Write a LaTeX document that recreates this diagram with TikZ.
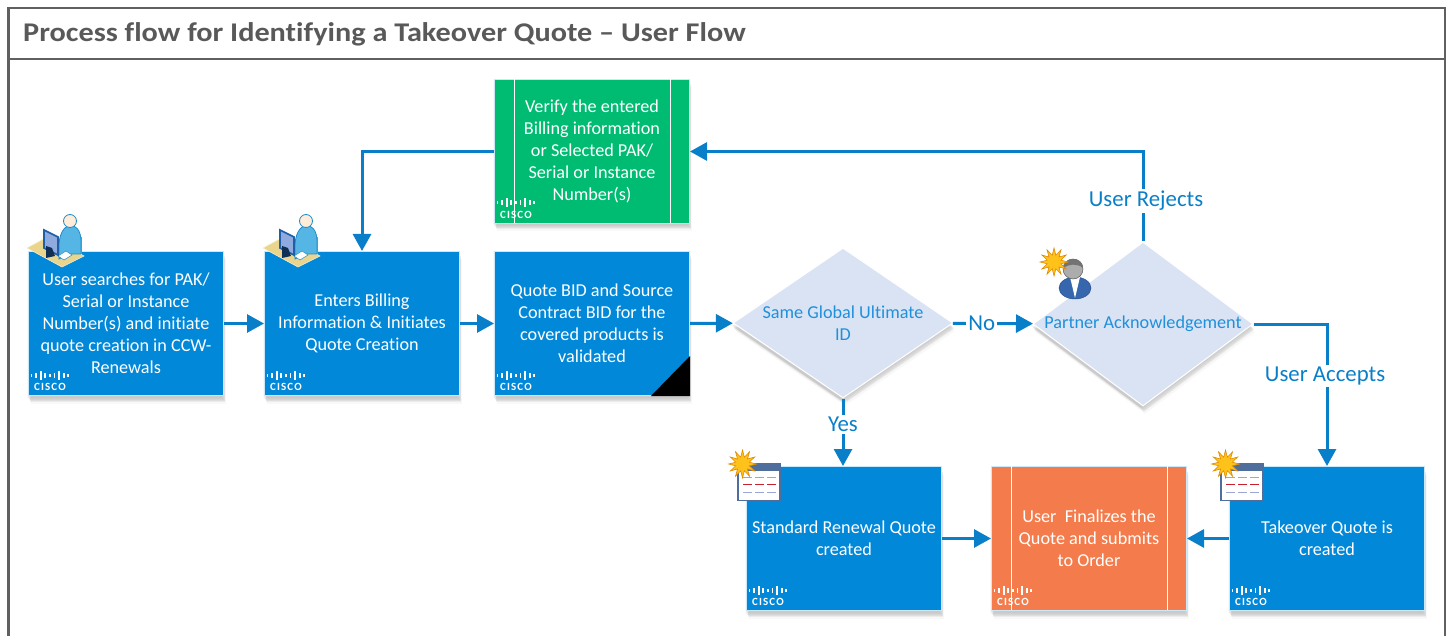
\documentclass[tikz,border=0pt]{standalone}
\usepackage{fontspec}
\setmainfont{Carlito}[Ligatures=CommonOff]
\usetikzlibrary{shapes.geometric,shadows,arrows.meta}

\definecolor{boxblue}{HTML}{0288D9}
\definecolor{boxgreen}{HTML}{00BC72}
\definecolor{boxorange}{HTML}{F47B4B}
\definecolor{decisionfill}{HTML}{DAE3F3}
\definecolor{decisiontext}{HTML}{1E90DC}
\definecolor{flowblue}{HTML}{0A7FC9}
\definecolor{framegrey}{HTML}{606060}
\definecolor{titlegrey}{HTML}{595959}
\definecolor{burstfill}{HTML}{FFC21A}
\definecolor{burstline}{HTML}{E08A00}
\definecolor{deskfill}{HTML}{E9D58C}
\definecolor{userblue}{HTML}{55B6E6}
\definecolor{userline}{HTML}{1E8CC8}
\definecolor{monitorline}{HTML}{1F5FA8}
\definecolor{sheetline}{HTML}{4F6E9C}
\definecolor{sheetdash}{HTML}{9CA6D6}
\definecolor{sheetred}{HTML}{C8202A}
\definecolor{partnerblue}{HTML}{3566AE}

\tikzset{
softshadow/.style={
  drop shadow={shadow xshift=-2pt, shadow yshift=-2pt, opacity=.05},
  drop shadow={shadow xshift=-1pt, shadow yshift=-3pt, opacity=.08},
  drop shadow={shadow xshift=0pt, shadow yshift=-4pt, opacity=.10},
  drop shadow={shadow xshift=1pt, shadow yshift=-5pt, opacity=.12},
  drop shadow={shadow xshift=1pt, shadow yshift=-6pt, opacity=.10},
  drop shadow={shadow xshift=2pt, shadow yshift=-8pt, opacity=.06}},
stepbox/.style={rectangle, draw=white!80!boxblue, line width=1pt, softshadow,
  minimum width=195pt, minimum height=144pt, inner sep=0pt, align=center,
  text=white, font=\fontsize{18.2}{22}\selectfont},
bluebox/.style={stepbox, fill=boxblue},
greenbox/.style={stepbox, fill=boxgreen},
orangebox/.style={stepbox, fill=boxorange},
decision/.style={diamond, aspect=1.47, fill=decisionfill, draw=white, line width=1pt,
  softshadow, minimum width=220pt, minimum height=150pt, inner sep=0pt, align=center,
  text=decisiontext, font=\fontsize{18.2}{22}\selectfont},
flow/.style={draw=flowblue, line width=3pt, -{Triangle[length=17pt, width=18pt]}},
flowlabel/.style={fill=white, inner sep=2pt, text=flowblue, font=\fontsize{22.8}{24}\selectfont},
ciscologo/.pic={
  \foreach \i/\h in {0/3,1/5,2/9,3/5,4/3,5/5,6/9,7/5,8/3}
    \fill[white] (3.5+\i*4.6-.9, -21-\h/2) rectangle (3.5+\i*4.6+.9, -21+\h/2);
  \node[text=white, inner sep=0pt, font=\fontsize{11}{11}\bfseries\addfontfeatures{LetterSpace=10}]
    (-word) at (22, -9) {CISCO};
},
burst/.pic={
  \draw[fill=burstfill, draw=burstline, line width=.6pt] (0:14)
    \foreach \a in {0,30,...,330} {-- (\a+15:7) -- (\a+30:14)} -- cycle;
},
deskuser/.pic={
  \fill[orange!75!brown] (50,-14) rectangle (54,5);
  \draw[fill=deskfill, draw=white!60!deskfill, line width=.6pt]
    (-1,-3) -- (21,-15) -- (56,5) -- (34,16) -- cycle;
  \draw[fill=userblue, draw=userline, line width=.8pt]
    (31,-2) .. controls (30,-32) and (53,-32) .. (53,-10) -- (53,3) -- (40,3) -- (31,8) -- cycle;
  \draw[fill=white!85!orange, draw=userline, line width=.8pt] (42,-30) circle (6.5);
  \draw[fill=white, draw=userline, line width=.5pt] (30,5) -- (38,0) -- (44,4) -- (36,9) -- cycle;
  \draw[fill=cyan!45!blue!45!white, draw=monitorline, line width=1.6pt] (16,-21) -- (30,-14) -- (30,4) -- (16,-3) -- cycle;
  \fill[monitorline!50!black] (18,-5) -- (24,-3) -- (27,5) -- (18,7) -- cycle;
},
quotesheet/.pic={
  \draw[fill=white, draw=sheetline, line width=1.2pt] (-8,-2.5) rectangle (34,34.5);
  \fill[sheetline] (-8,-2.5) rectangle (34,4.5);
  \foreach \r/\c in {11.5/sheetdash, 18.5/sheetred, 26.5/sheetdash}
    \foreach \x in {-3,9,21}
      \draw[\c, line width=1.3pt] (\x, \r) -- (\x+9, \r);
  \pic at (-3.5,-2) {burst};
},
partnerman/.pic={
  \draw[fill=partnerblue, draw=partnerblue!80!black, line width=.5pt] (0,0) ellipse (16 and 11);
  \fill[white] (-5,-11) -- (5,-11) -- (0,10) -- cycle;
  \draw[fill=gray!65, draw=gray!70!black, line width=.5pt] (-2,-19) circle (10);
  \fill[gray!90!black] (-12,-20) .. controls (-11,-32) and (8,-32) .. (8,-20)
    .. controls (2,-25) and (-6,-24) .. (-12,-20) -- cycle;
  \pic at (-21,-26) {burst};
}
}

\begin{document}
\begin{tikzpicture}[x=1pt, y=-1pt]
\useasboundingbox (0, 0) rectangle (1448, 636);

\draw[framegrey, line width=2.5pt] (8.5, 636) -- (8.5, 8) -- (1445, 8) -- (1445, 636);
\draw[framegrey, line width=2.5pt] (8.5, 59) -- (1445, 59);
\node[anchor=west, inner sep=0pt, text=titlegrey, font=\fontsize{27}{30}\bfseries\addfontfeatures{FakeStretch=1.12}] (title) at (23, 34)
  {Process flow for Identifying a Takeover Quote – User Flow};

\node[bluebox] (user) at (126, 323.5) {User searches for PAK/\\ Serial or Instance\\ Number(s) and initiate\\ quote creation in CCW-\\ Renewals};
\node[bluebox] (enters) at (362, 323.5) {Enters Billing\\ Information \& Initiates\\ Quote Creation};
\node[bluebox] (validate) at (592, 323.5) {Quote BID and Source\\ Contract BID for the\\ covered products is\\ validated};
\node[greenbox] (verify) at (592, 151.5) {Verify the entered\\ Billing information\\ or Selected PAK/\\ Serial or Instance\\ Number(s)};
\node[decision] (sameid) at (843, 323) {Same Global Ultimate\\ ID};
\node[decision, aspect=1.34, minimum height=164pt] (partner) at (1143, 324) {Partner Acknowledgement};
\node[bluebox] (standard) at (844, 538.5) {Standard Renewal Quote\\ created};
\node[orangebox] (finalize) at (1089, 538.5) {User\ \ Finalizes the\\ Quote and submits\\ to Order};
\node[bluebox] (takeover) at (1327, 538.5) {Takeover Quote is\\ created};

\draw[white, line width=.8pt] (verify.north west) ++(20, 0) -- ++(0, 144);
\draw[white, line width=.8pt] (verify.north east) ++(-20, 0) -- ++(0, 144);
\draw[white, line width=.8pt] (finalize.north west) ++(20, 0) -- ++(0, 144);
\draw[white, line width=.8pt] (finalize.north east) ++(-20, 0) -- ++(0, 144);
\fill[black] (validate.south east) -- ++(0, -40) -- ++(-39, 40) -- cycle;

\foreach \n in {user, enters, validate, verify, standard, finalize, takeover}
  \pic (\n logo) at (\n.south west) {ciscologo};
\pic at (user.north west) {deskuser};
\pic at (enters.north west) {deskuser};
\pic at (standard.north west) {quotesheet};
\pic at (takeover.north west) {quotesheet};
\pic at (1075, 288) {partnerman};

\draw[flow] (user) -- (enters);
\draw[flow] (enters) -- (validate);
\draw[flow] (validate) -- (sameid);
\draw[flow] (sameid) -- node[flowlabel, pos=.36] (nolabel) {No} (partner);
\draw[flow] (partner.east) -| node[flowlabel, pos=.675, xshift=-2pt, yshift=-2pt] (acceptlabel) {User Accepts} (takeover.north);
\draw[flow] (partner.north) |- node[flowlabel, pos=.236, xshift=3pt, yshift=-2pt] (rejectlabel) {User Rejects} (verify.east);
\draw[flow] (verify.west) -| (enters.north);
\draw[flow] (sameid.south) -- node[flowlabel, pos=.38] (yeslabel) {Yes} (standard.north -| sameid.south);
\draw[flow] (standard) -- (finalize);
\draw[flow] (takeover) -- (finalize);
\end{tikzpicture}
\end{document}
